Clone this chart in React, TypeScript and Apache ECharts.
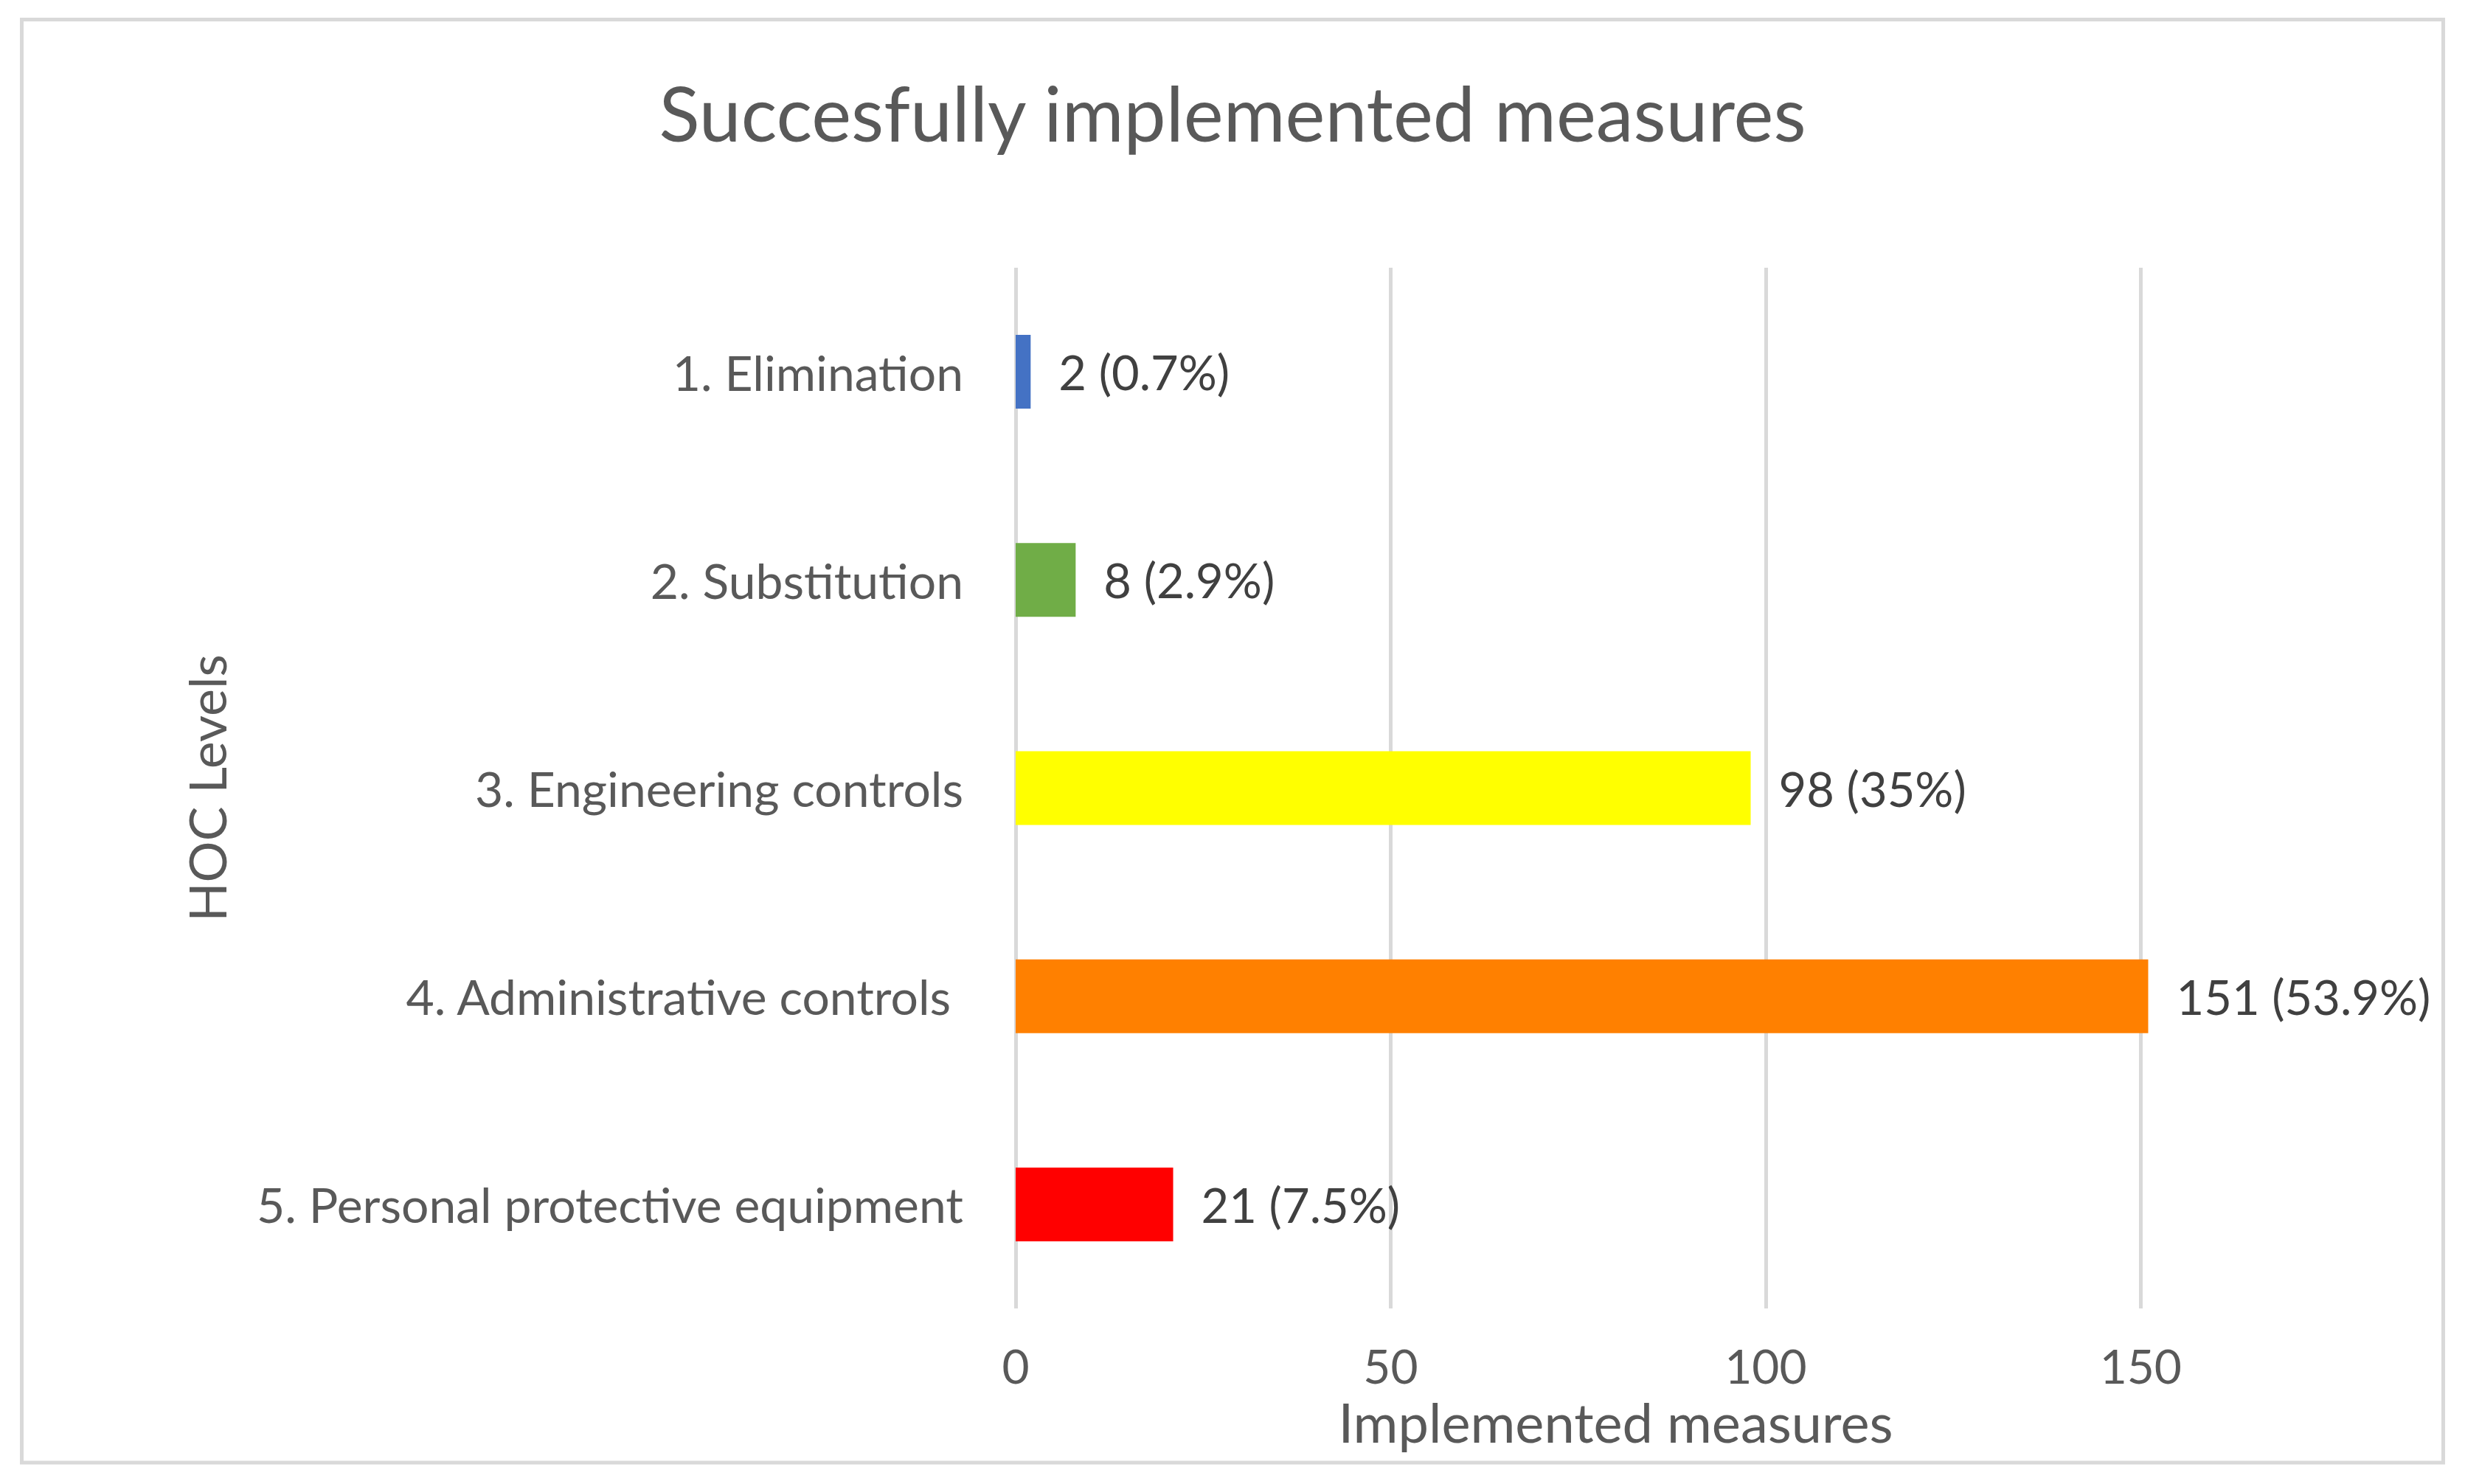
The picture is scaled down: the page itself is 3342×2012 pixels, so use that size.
import React, { useEffect, useRef } from "react";
import * as echarts from "echarts";

const categories = [
  "1. Elimination",
  "2. Substitution",
  "3. Engineering controls",
  "4. Administrative controls ",
  "5. Personal protective equipment",
];
const values = [2, 8, 98, 151, 21];
const percents = ["0.7%", "2.9%", "35%", "53.9%", "7.5%"];
const barColors = ["#4472C4", "#70AD47", "#FFFF00", "#FF8000", "#FF0000"];
const xMin = 0;
const xMax = 160;
const xInterval = 50;

const FONT = "Lato, Carlito, Calibri, 'Open Sans', sans-serif";

export default function App() {
  const ref = useRef<HTMLDivElement>(null);
  useEffect(() => {
    document.body.style.margin = "0";
    const chart = echarts.init(ref.current!, null, { renderer: "svg" });
    chart.setOption({
      animation: false,
      backgroundColor: "#FFFFFF",
      title: {
        text: "Succesfully implemented measures",
        left: "center",
        top: 96,
        textStyle: { fontFamily: FONT, fontSize: 102, fontWeight: "normal", color: "#595959" },
      },
      graphic: [
        {
          type: "rect",
          shape: { x: 29.5, y: 26.5, width: 3283, height: 1956.5 },
          style: { fill: "none", stroke: "#D9D9D9", lineWidth: 5 },
          silent: true,
        },
      ],
      grid: { left: 1377, top: 363, width: 1627, height: 1411, containLabel: false },
      xAxis: {
        type: "value",
        min: xMin,
        max: xMax,
        interval: xInterval,
        name: "Implemented measures",
        nameLocation: "middle",
        nameGap: 124,
        nameTextStyle: { fontFamily: FONT, fontSize: 74, lineHeight: 58, color: "#595959" },
        axisLine: { show: false },
        axisTick: { show: false },
        axisLabel: {
          showMaxLabel: false,
          margin: 53,
          fontFamily: FONT,
          fontSize: 64,
          lineHeight: 48,
          color: "#595959",
        },
        splitLine: { show: true, showMaxLine: false, lineStyle: { color: "#D9D9D9", width: 5 } },
      },
      yAxis: {
        type: "category",
        data: categories,
        inverse: true,
        name: "HOC Levels",
        nameLocation: "middle",
        nameGap: 1062,
        nameRotate: 90,
        nameTextStyle: { fontFamily: FONT, fontSize: 70, color: "#595959" },
        axisLine: { show: false },
        axisTick: { show: false },
        axisLabel: {
          margin: 71,
          fontFamily: FONT,
          fontSize: 66,
          color: "#595959",
        },
        splitLine: { show: false },
      },
      series: [
        {
          type: "bar",
          barWidth: 100,
          data: values.map((v, i) => ({ value: v, itemStyle: { color: barColors[i] } })),
          label: {
            show: true,
            position: "right",
            distance: 38,
            fontFamily: FONT,
            fontSize: 65,
            color: "#404040",
            formatter: (p: any) => `${values[p.dataIndex]} (${percents[p.dataIndex]})`,
          },
        },
      ],
    });
    return () => chart.dispose();
  }, []);
  return (
    <div
      ref={ref}
      style={{ position: "absolute", left: 0, top: 0, width: 3342, height: 2012 }}
    />
  );
}
